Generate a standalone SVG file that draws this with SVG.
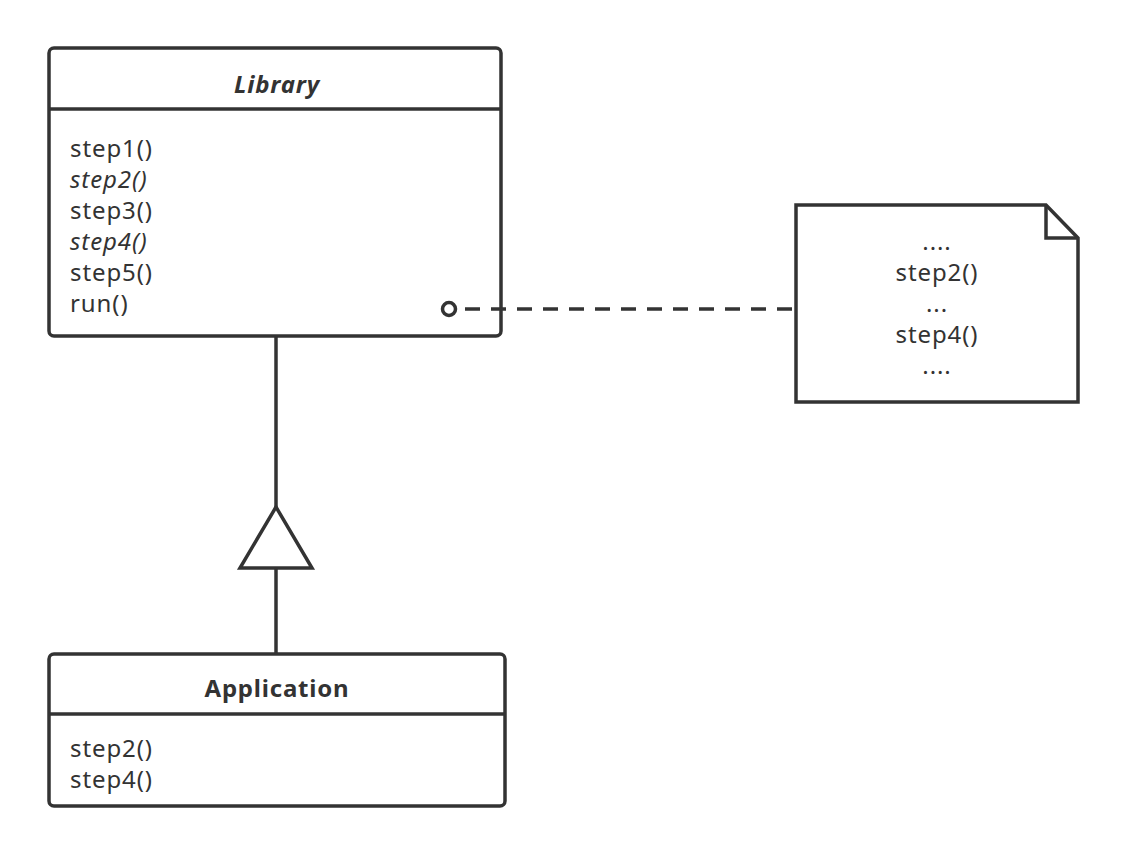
<svg xmlns="http://www.w3.org/2000/svg" width="1128" height="860" viewBox="0 0 1128 860">
<style>
.box{fill:#fff;stroke:#333;stroke-width:3.5}
.ln{stroke:#333;stroke-width:3.5;fill:none}
.t{font-family:"Noto Sans","Open Sans",sans-serif;font-size:24px;letter-spacing:0.9px;fill:#333}
.it{font-style:italic}
.title{font-family:"Noto Sans","Open Sans",sans-serif;font-size:24px;letter-spacing:0.8px;font-weight:bold;fill:#333;text-anchor:middle}
.c{text-anchor:middle}
</style>
<rect width="1128" height="860" fill="#fff"/>
<g id="library">
<rect class="box" x="49" y="48" width="452" height="288" rx="5"/>
<line class="ln" x1="49" y1="109" x2="501" y2="109"/>
<text class="title it" x="277" y="93">Library</text>
<text class="t" x="70" y="157">step1()</text>
<text class="t it" x="70" y="188">step2()</text>
<text class="t" x="70" y="219">step3()</text>
<text class="t it" x="70" y="250">step4()</text>
<text class="t" x="70" y="281">step5()</text>
<text class="t" x="70" y="312">run()</text>
</g>
<g id="note">
<path class="box" d="M796,205 H1046 L1078,238 V402 H796 Z"/>
<path class="ln" d="M1046,205 V238 H1078"/>
<text class="t c" x="937" y="250">....</text>
<text class="t c" x="937" y="281">step2()</text>
<text class="t c" x="937" y="312">...</text>
<text class="t c" x="937" y="343">step4()</text>
<text class="t c" x="937" y="374">....</text>
</g>
<g id="application">
<rect class="box" x="49" y="654" width="456" height="152" rx="5"/>
<line class="ln" x1="49" y1="714" x2="505" y2="714"/>
<text class="title" x="277" y="697">Application</text>
<text class="t" x="70" y="757">step2()</text>
<text class="t" x="70" y="788">step4()</text>
</g>
<g id="connectors">
<line class="ln" x1="276" y1="336" x2="276" y2="507"/>
<polygon class="box" points="276,507 240,568 312,568"/>
<line class="ln" x1="276" y1="568" x2="276" y2="654"/>
<line class="ln" x1="465" y1="309" x2="796" y2="309" stroke-dasharray="15,11"/>
<circle cx="449" cy="309" r="6.5" fill="#fff" stroke="#333" stroke-width="3.5"/>
</g>
</svg>
